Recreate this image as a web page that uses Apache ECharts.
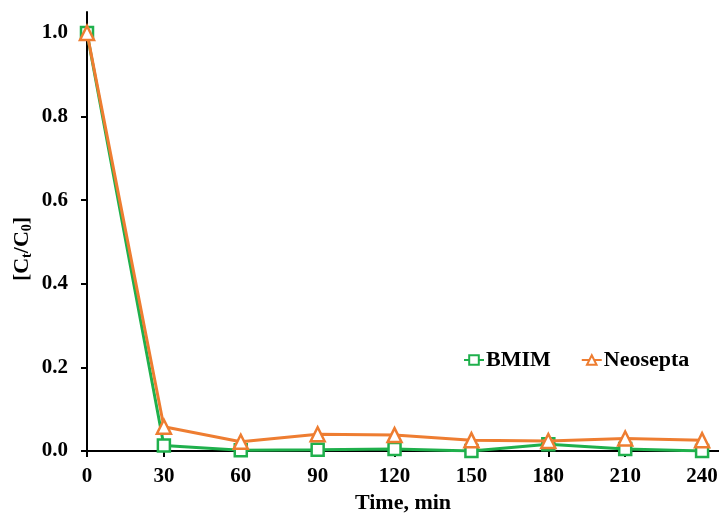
<!DOCTYPE html>
<html><head><meta charset="utf-8">
<script src="https://cdn.jsdelivr.net/npm/echarts@6/dist/echarts.min.js"></script>
<style>html,body{margin:0;padding:0;background:#fff}#c{width:719px;height:513px}</style>
</head><body><div id="c"></div>
<script>
const times = [0, 30, 60, 90, 120, 150, 180, 210, 240];
const bmim = [1.0, 0.013, 0.002, 0.003, 0.005, 0.0, 0.016, 0.005, 0.0];
const neosepta = [1.0, 0.058, 0.022, 0.040, 0.038, 0.026, 0.024, 0.030, 0.026];
const xTicks = [0, 30, 60, 90, 120, 150, 180, 210, 240];
const yTicks = [0, 0.2, 0.4, 0.6, 0.8, 1.0];
const FONT = '"Liberation Serif", "Times New Roman", serif';
const GREEN = '#1fb04c', ORANGE = '#ee7d31';
const chart = echarts.init(document.getElementById('c'));
chart.setOption({
  animation: false,
  backgroundColor: '#fff',
  grid: { left: 87, right: 0, top: 12, bottom: 62, containLabel: false, outerBoundsMode: 'none' },
  legend: {
    left: 458, top: 344,
    itemWidth: 20, itemHeight: 12, itemGap: 30,
    textStyle: { fontFamily: FONT, fontWeight: 'bold', fontSize: 22, color: '#000', padding: [0, 0, 0, -3] },
    data: ['BMIM', 'Neosepta']
  },
  xAxis: {
    type: 'value', min: 0, max: 246.6,
    name: 'Time, min', nameLocation: 'middle', nameGap: 40,
    nameTextStyle: { fontFamily: FONT, fontWeight: 'bold', fontSize: 22, color: '#000' },
    axisLine: { onZero: false, lineStyle: { color: '#000', width: 2 } },
    axisTick: { show: true, inside: false, length: 6, lineStyle: { color: '#000', width: 2 }, customValues: xTicks },
    axisLabel: { customValues: xTicks, margin: 15, fontFamily: FONT, fontWeight: 'bold', fontSize: 21, color: '#000' },
    splitLine: { show: false }
  },
  yAxis: {
    type: 'value', min: 0, max: 1.05,
    axisLine: { show: true, lineStyle: { color: '#000', width: 2 } },
    axisTick: { show: true, inside: false, length: 6, lineStyle: { color: '#000', width: 2 }, customValues: yTicks },
    axisLabel: { customValues: yTicks, margin: 19, fontFamily: FONT, fontWeight: 'bold', fontSize: 21, color: '#000',
      formatter: v => v.toFixed(1) },
    splitLine: { show: false }
  },
  graphic: [{
    type: 'text', x: 22, y: 249, rotation: Math.PI / 2,
    style: {
      text: '[C{s|t}/C{s|0}]',
      fontFamily: FONT, fontWeight: 'bold', fontSize: 22, fill: '#000',
      align: 'center', verticalAlign: 'middle',
      rich: { s: { fontFamily: FONT, fontWeight: 'bold', fontSize: 14, fill: '#000', padding: [10, 0, 0, 0] } }
    }
  }],
  series: [
    {
      name: 'BMIM', type: 'line',
      data: times.map((t, i) => [t, bmim[i]]),
      symbol: 'rect', symbolSize: 12,
      lineStyle: { color: GREEN, width: 3 },
      itemStyle: { color: '#fff', borderColor: GREEN, borderWidth: 2.5 },
      z: 2
    },
    {
      name: 'Neosepta', type: 'line',
      data: times.map((t, i) => [t, neosepta[i]]),
      symbol: 'triangle', symbolSize: 14,
      lineStyle: { color: ORANGE, width: 3 },
      itemStyle: { color: '#fff', borderColor: ORANGE, borderWidth: 2.5 },
      z: 3
    }
  ]
});
</script></body></html>
